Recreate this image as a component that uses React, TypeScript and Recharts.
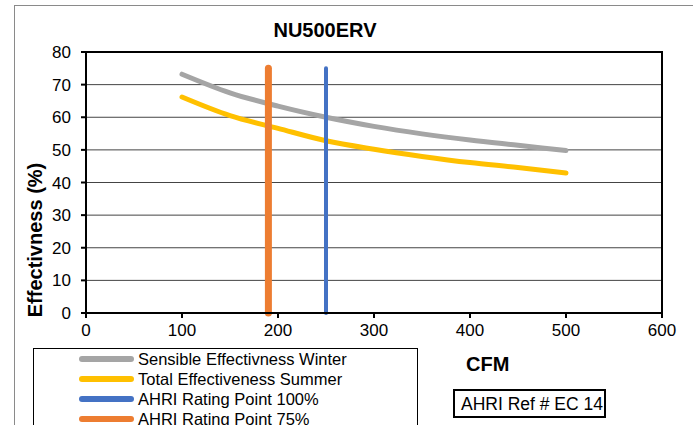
import React from 'react'
import {
  LineChart,
  Line,
  XAxis,
  YAxis,
  CartesianGrid,
  Legend,
  ReferenceArea,
} from 'recharts'

const cfm = [100, 150, 200, 250, 300, 350, 400, 450, 500]
const sensibleWinter = [73.2, 67.5, 63.4, 60, 57.2, 54.9, 53, 51.4, 49.8]
const totalSummer = [66.2, 60.5, 56.6, 52.8, 50.2, 48, 46.1, 44.6, 42.9]

const ratingCfm100 = 250
const ratingCfm75 = 190
const ratingRange = [0, 75]

const seriesNames = [
  'Sensible Effectivness Winter',
  'Total Effectiveness Summer',
  'AHRI Rating Point 100%',
  'AHRI Rating Point 75%',
]

const xTicks = [0, 100, 200, 300, 400, 500, 600]
const yTicks = [0, 10, 20, 30, 40, 50, 60, 70, 80]

const font = '"Liberation Sans", Arial, sans-serif'

const sensibleData = cfm.map((x, i) => ({ x, y: sensibleWinter[i] }))
const totalData = cfm.map((x, i) => ({ x, y: totalSummer[i] }))
const point100 = ratingRange.map((y) => ({ x: ratingCfm100, y }))
const point75 = ratingRange.map((y) => ({ x: ratingCfm75, y }))

// legend drawn by hand so the order matches the series, not the alphabet
function LegendBox({ payload }: any) {
  const items = [...(payload || [])].sort(
    (a: any, b: any) => seriesNames.indexOf(a.value) - seriesNames.indexOf(b.value)
  )
  return (
    <div>
      {items.map((p: any) => (
        <div
          key={p.value}
          style={{ display: 'flex', alignItems: 'center', height: 20 }}
        >
          <div
            style={{
              marginLeft: 45,
              width: 55,
              height: 6,
              borderRadius: 3,
              background: p.color,
            }}
          />
          <span
            style={{
              marginLeft: 4,
              fontFamily: font,
              fontSize: 16.5,
              color: '#000',
              whiteSpace: 'nowrap',
            }}
          >
            {p.value}
          </span>
        </div>
      ))}
    </div>
  )
}

export default function App() {
  return (
    <div
      style={{
        position: 'absolute',
        left: 0,
        top: 0,
        width: 693,
        height: 425,
        overflow: 'hidden',
        background: '#fff',
      }}
    >
      <div
        style={{
          position: 'absolute',
          left: 14,
          top: 5,
          width: 720,
          height: 480,
          border: '1.5px solid #8a8a8a',
        }}
      />
      <div
        style={{
          position: 'absolute',
          left: 0,
          top: 0,
          width: 693,
          height: 425,
        }}
      >
        <LineChart
          width={693}
          height={425}
          margin={{ top: 52, right: 31, bottom: 82, left: 56 }}
        >
          <CartesianGrid vertical={false} stroke="#444" strokeWidth={1} />
          <XAxis
            type="number"
            dataKey="x"
            domain={[0, 600]}
            ticks={xTicks}
            height={30}
            tickSize={5}
            tickMargin={6}
            stroke="#000"
            strokeWidth={2}
            tick={{ fontSize: 17, fill: '#000', fontFamily: font }}
            allowDuplicatedCategory={false}
          />
          <YAxis
            type="number"
            domain={[0, 80]}
            ticks={yTicks}
            width={30}
            tickSize={5}
            tickMargin={10}
            stroke="#000"
            strokeWidth={2}
            tick={{ fontSize: 17, fill: '#000', fontFamily: font }}
            label={{
              content: () => (
                <text
                  x={42}
                  y={240}
                  transform="rotate(-90 42 240)"
                  textAnchor="middle"
                  fontFamily={font}
                  fontSize={20}
                  fontWeight="bold"
                  fill="#000"
                >
                  Effectivness (%)
                </text>
              ),
            }}
          />
          <ReferenceArea
            x1={0}
            x2={600}
            y1={0}
            y2={80}
            fill="none"
            stroke="#000"
            strokeWidth={2}
            ifOverflow="visible"
          />
          <Line
            data={sensibleData}
            dataKey="y"
            name={seriesNames[0]}
            type="monotone"
            stroke="#A5A5A5"
            strokeWidth={5}
            strokeLinecap="round"
            dot={false}
            isAnimationActive={false}
          />
          <Line
            data={totalData}
            dataKey="y"
            name={seriesNames[1]}
            type="monotone"
            stroke="#FFC000"
            strokeWidth={5}
            strokeLinecap="round"
            dot={false}
            isAnimationActive={false}
          />
          <Line
            data={point100}
            dataKey="y"
            name={seriesNames[2]}
            type="linear"
            stroke="#4472C4"
            strokeWidth={4}
            strokeLinecap="round"
            dot={false}
            isAnimationActive={false}
          />
          <Line
            data={point75}
            dataKey="y"
            name={seriesNames[3]}
            type="linear"
            stroke="#ED7D31"
            strokeWidth={7}
            strokeLinecap="round"
            dot={false}
            isAnimationActive={false}
          />
          <Legend
            layout="vertical"
            align="center"
            verticalAlign="middle"
            content={<LegendBox />}
            wrapperStyle={{
              position: 'absolute',
              left: 33,
              top: 348,
              width: 385,
              height: 90,
              border: '1.5px solid #000',
              boxSizing: 'border-box',
              background: '#fff',
            }}
          />
        </LineChart>
      </div>
      <div
        style={{
          position: 'absolute',
          left: 0,
          top: 19,
          width: 650,
          textAlign: 'center',
          fontFamily: font,
          fontSize: 20,
          fontWeight: 'bold',
          color: '#000',
        }}
      >
        NU500ERV
      </div>
      <div
        style={{
          position: 'absolute',
          left: 466,
          top: 353,
          fontFamily: font,
          fontSize: 20,
          fontWeight: 'bold',
          color: '#000',
        }}
      >
        CFM
      </div>
      <div
        style={{
          position: 'absolute',
          left: 453,
          top: 389,
          width: 153,
          height: 29,
          border: '2px solid #000',
          boxSizing: 'border-box',
          fontFamily: font,
          fontSize: 17.5,
          lineHeight: '26px',
          paddingLeft: 6,
          color: '#000',
          whiteSpace: 'nowrap',
        }}
      >
        AHRI Ref # EC 14
      </div>
    </div>
  )
}
